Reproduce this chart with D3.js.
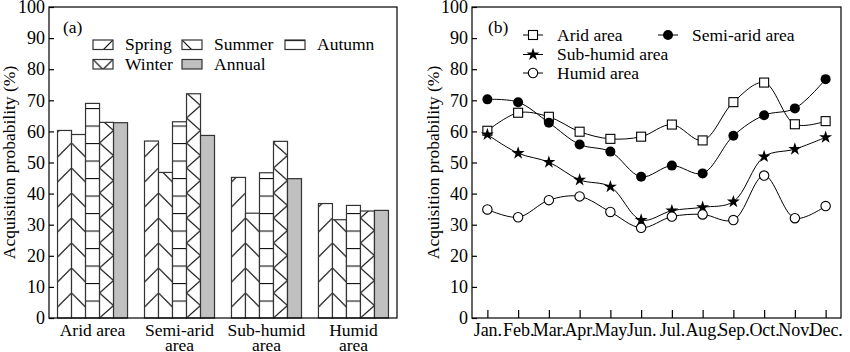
<!DOCTYPE html>
<html>
<head>
<meta charset="utf-8">
<script src="https://cdn.jsdelivr.net/npm/d3@7"></script>
<style>
body { margin: 0; background: #fff; }
text { font-family: "Liberation Serif", "DejaVu Serif", serif; font-size: 17.5px; }
.tick text { font-size: 18px; }
</style>
</head>
<body>
<svg id="chart" width="850" height="352" font-family="Liberation Serif, DejaVu Serif, serif" font-size="17.5"></svg>
<script>
// panel (a): acquisition probability per season and area
const areas = ['Arid area', 'Semi-arid area', 'Sub-humid area', 'Humid area'];
const areaLabels = [['Arid area'], ['Semi-arid', 'area'], ['Sub-humid', 'area'], ['Humid', 'area']];
const seasons = ['Spring', 'Summer', 'Autumn', 'Winter', 'Annual'];
const spring = [60.3, 56.9, 45.2, 36.8];
const summer = [59.0, 46.8, 33.7, 31.6];
const autumn = [69.0, 63.1, 46.7, 36.2];
const winter = [62.9, 72.1, 56.8, 34.4];
const annual = [62.8, 58.7, 44.8, 34.6];
const seasonValues = [spring, summer, autumn, winter, annual];

// panel (b): monthly acquisition probability
const months = ['Jan.', 'Feb.', 'Mar.', 'Apr.', 'May', 'Jun.', 'Jul.', 'Aug.', 'Sep.', 'Oct.', 'Nov.', 'Dec.'];
const aridMonthly = [60.2, 66.0, 64.7, 59.9, 57.6, 58.3, 62.2, 57.1, 69.4, 75.7, 62.3, 63.3];
const semiAridMonthly = [70.3, 69.4, 62.8, 55.8, 53.5, 45.4, 49.0, 46.5, 58.6, 65.2, 67.4, 76.8];
const subHumidMonthly = [59.0, 53.0, 50.1, 44.4, 42.2, 31.5, 34.5, 35.6, 37.4, 51.9, 54.3, 58.1];
const humidMonthly = [34.9, 32.4, 37.9, 39.1, 34.1, 29.0, 32.6, 33.3, 31.5, 45.8, 32.1, 36.0];
const seriesNames = ['Arid area', 'Semi-arid area', 'Sub-humid area', 'Humid area'];
const seriesMarkers = ['square', 'dot', 'star', 'circle'];

const svg = d3.select('#chart');
const defs = svg.append('defs');
const plotTop = 7, plotBottom = 318;

// hatch pattern, drawn per bar so the lines line up with its edges
function hatch(id, kind, x, y, w, legend) {
    const period = kind === 'Autumn' ? 17.5 : 25;
    const p = defs.append('pattern')
        .attr('id', id)
        .attr('patternUnits', 'userSpaceOnUse')
        .attr('x', x).attr('y', y)
        .attr('width', w).attr('height', period);
    p.append('rect').attr('width', w).attr('height', period).attr('fill', '#fff');
    const line = (x1, y1, x2, y2) => p.append('line')
        .attr('x1', x1).attr('y1', y1).attr('x2', x2).attr('y2', y2)
        .attr('stroke', '#111').attr('stroke-width', 1.2);
    if (kind === 'Spring') line(0, w, w, 0);
    if (kind === 'Summer') line(0, 0, w, w);
    if (kind === 'Autumn') line(0, 0.5, w, 0.5);
    if (kind === 'Winter') {
        if (legend) { line(0, 0, w / 2, w / 2); line(w / 2, w / 2, w, 0); }
        else { line(0, 0, w, period / 2); line(w, period / 2, 0, period); }
    }
}
function fillFor(season, id) {
    return season === 'Annual' ? '#c0c0c0' : `url(#${id})`;
}

function styleAxis(g) {
    g.attr('font-size', null).attr('font-family', null);
    g.select('.domain').remove();
    g.selectAll('.tick line').attr('stroke', '#000').attr('stroke-width', 1.2);
    g.selectAll('.tick text').attr('fill', '#000');
}

// ---------- panel (a) ----------
const ax0 = 49, ax1 = 397;
const xA = d3.scaleBand().domain(areas).range([ax0, ax1]).paddingInner(0.195).paddingOuter(0.098);
const xS = d3.scaleBand().domain(seasons).range([0, xA.bandwidth()]);
const yA = d3.scaleLinear().domain([0, 100]).range([plotBottom, plotTop]);

const gA = svg.append('g');
gA.append('g')
    .attr('transform', `translate(${ax0},0)`)
    .call(d3.axisLeft(yA).ticks(10).tickSizeInner(-5).tickSizeOuter(0).tickPadding(4))
    .call(styleAxis);

const barData = [];
areas.forEach((a, i) => seasons.forEach((s, j) => {
    barData.push({ area: a, season: s, value: seasonValues[j][i], id: `pa${i}${j}` });
}));
barData.forEach(d => {
    if (d.season !== 'Annual') hatch(d.id, d.season, xA(d.area) + xS(d.season), plotBottom, xS.bandwidth());
});
gA.selectAll('rect.bar')
    .data(barData)
    .enter()
    .append('rect')
    .attr('class', 'bar')
    .attr('x', d => xA(d.area) + xS(d.season))
    .attr('y', d => yA(d.value))
    .attr('width', xS.bandwidth())
    .attr('height', d => yA(0) - yA(d.value))
    .attr('fill', d => fillFor(d.season, d.id))
    .attr('stroke', '#333')
    .attr('stroke-width', 1.2);

gA.append('rect')
    .attr('x', ax0).attr('y', plotTop).attr('width', ax1 - ax0).attr('height', plotBottom - plotTop)
    .attr('fill', 'none').attr('stroke', '#000').attr('stroke-width', 1.2);

// category labels
gA.selectAll('text.cat')
    .data(areas)
    .enter()
    .append('text')
    .attr('class', 'cat')
    .attr('text-anchor', 'middle')
    .attr('x', d => xA(d) + xA.bandwidth() / 2)
    .attr('y', 336)
    .each(function(d, i) {
        areaLabels[i].forEach((t, k) => {
            d3.select(this).append('tspan')
                .attr('x', xA(d) + xA.bandwidth() / 2)
                .attr('dy', k === 0 ? 0 : 14.5)
                .text(t);
        });
    });

gA.append('text').attr('x', 63).attr('y', 33).text('(a)');
gA.append('text')
    .attr('transform', `translate(15,${(plotTop + plotBottom) / 2}) rotate(-90)`)
    .attr('text-anchor', 'middle')
    .text('Acquisition probability (%)');

// legend (a)
const legA = [
    { s: 'Spring', x: 93, y: 40 }, { s: 'Summer', x: 182, y: 40 }, { s: 'Autumn', x: 285, y: 40 },
    { s: 'Winter', x: 93, y: 59.5 }, { s: 'Annual', x: 182, y: 59.5 }
];
legA.forEach((d, i) => {
    const id = `leg${i}`;
    if (d.s !== 'Annual') hatch(id, d.s, d.x, d.y, 20, true);
    gA.append('rect')
        .attr('x', d.x).attr('y', d.y).attr('width', 20).attr('height', 9.5)
        .attr('fill', fillFor(d.s, id)).attr('stroke', '#333').attr('stroke-width', 1.2);
    gA.append('text').attr('x', d.x + 32).attr('y', d.y + 10).text(d.s);
});

// ---------- panel (b) ----------
const bx0 = 472, bx1 = 841;
const xB = d3.scalePoint().domain(months).range([bx0, bx1]).padding(0.5);
const yB = d3.scaleLinear().domain([0, 100]).range([plotBottom, plotTop]);

const gB = svg.append('g');
gB.append('g')
    .attr('transform', `translate(${bx0},0)`)
    .call(d3.axisLeft(yB).ticks(10).tickSizeInner(-5).tickSizeOuter(0).tickPadding(4))
    .call(styleAxis);
gB.append('g')
    .attr('transform', `translate(0,${plotBottom})`)
    .call(d3.axisBottom(xB).tickSizeInner(-8).tickSizeOuter(0).tickPadding(5))
    .call(styleAxis);

gB.append('rect')
    .attr('x', bx0).attr('y', plotTop).attr('width', bx1 - bx0).attr('height', plotBottom - plotTop)
    .attr('fill', 'none').attr('stroke', '#000').attr('stroke-width', 1.2);

const series = [aridMonthly, semiAridMonthly, subHumidMonthly, humidMonthly].map((v, i) => ({
    name: seriesNames[i], marker: seriesMarkers[i],
    points: v.map((val, k) => ({ month: months[k], value: val }))
}));

const line = d3.line()
    .x(d => xB(d.month))
    .y(d => yB(d.value))
    .curve(d3.curveCatmullRom.alpha(0.5));

function drawMarker(g, kind, x, y) {
    if (kind === 'square') {
        g.append('rect').attr('x', x - 4.5).attr('y', y - 4.5).attr('width', 9).attr('height', 9)
            .attr('fill', '#fff').attr('stroke', '#000').attr('stroke-width', 1.1);
    } else if (kind === 'dot') {
        g.append('circle').attr('cx', x).attr('cy', y).attr('r', 5).attr('fill', '#000');
    } else if (kind === 'circle') {
        g.append('circle').attr('cx', x).attr('cy', y).attr('r', 4.7)
            .attr('fill', '#fff').attr('stroke', '#000').attr('stroke-width', 1.1);
    } else {
        g.append('path').attr('d', d3.symbol(d3.symbolStar, 52)())
            .attr('transform', `translate(${x},${y})`).attr('fill', '#000');
    }
}

series.forEach(s => {
    gB.append('path').attr('d', line(s.points))
        .attr('fill', 'none').attr('stroke', '#000').attr('stroke-width', 1);
});
series.forEach(s => {
    const g = gB.append('g');
    s.points.forEach(p => drawMarker(g, s.marker, xB(p.month), yB(p.value)));
});

gB.append('text').attr('x', 488).attr('y', 33).text('(b)');
gB.append('text')
    .attr('transform', `translate(439,${(plotTop + plotBottom) / 2}) rotate(-90)`)
    .attr('text-anchor', 'middle')
    .text('Acquisition probability (%)');

// legend (b)
const legB = [
    { i: 0, x: 523, y: 35 }, { i: 1, x: 658, y: 35 },
    { i: 2, x: 523, y: 54.5 }, { i: 3, x: 523, y: 73 }
];
legB.forEach(d => {
    const s = series[d.i];
    const g = gB.append('g');
    g.append('line').attr('x1', d.x).attr('x2', d.x + 20).attr('y1', d.y).attr('y2', d.y)
        .attr('stroke', '#000').attr('stroke-width', 1);
    drawMarker(g, s.marker, d.x + 10, d.y);
    g.append('text').attr('x', d.x + 34).attr('y', d.y + 5.5).text(s.name);
});
</script>
</body>
</html>
